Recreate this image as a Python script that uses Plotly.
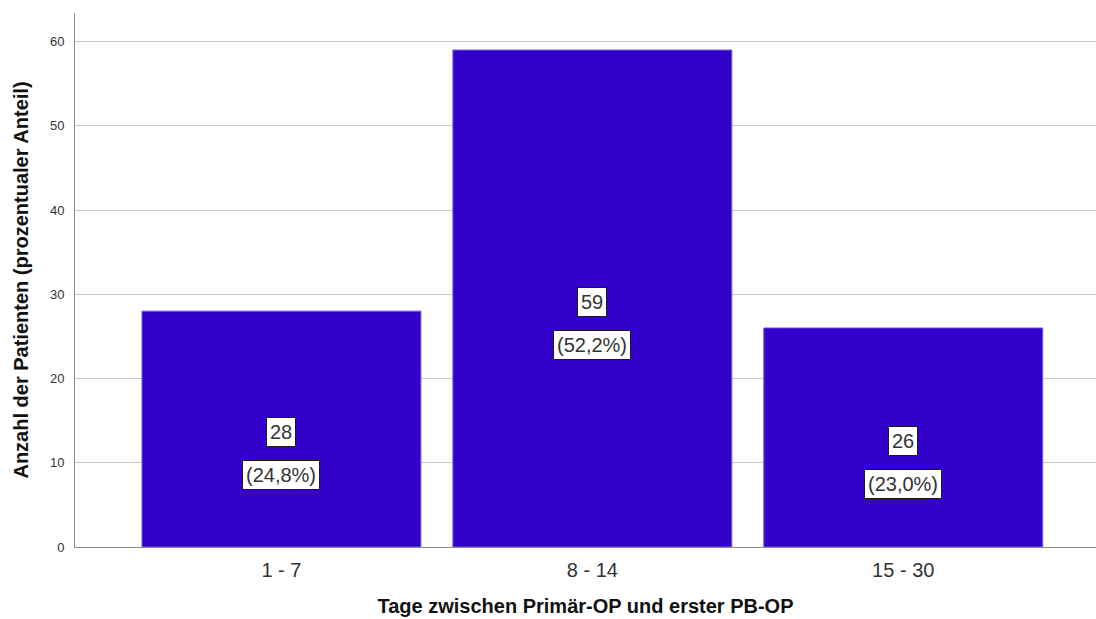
import plotly.graph_objects as go

categories = ["1 - 7", "8 - 14", "15 - 30"]
counts = [28, 59, 26]
percents = ["(24,8%)", "(52,2%)", "(23,0%)"]
y_ticks = [0, 10, 20, 30, 40, 50, 60]

bar_color = "#3300CC"
font_family = "Arial, Liberation Sans, sans-serif"

fig = go.Figure()
fig.add_trace(go.Bar(
    x=list(range(len(categories))),
    y=counts,
    width=0.897,
    marker=dict(color=bar_color, line=dict(color="#6a55e0", width=1)),
    hoverinfo="skip",
))

# count and percentage labels stacked in the middle of each bar
annotations = []
for i, (c, p) in enumerate(zip(counts, percents)):
    annotations.append(dict(
        x=i, y=c / 2, xref="x", yref="y", text=str(c), showarrow=False,
        yshift=-3, font=dict(family=font_family, size=20, color="#333333"),
        bgcolor="white", bordercolor="#1a1a1a", borderwidth=1, borderpad=3,
    ))
    annotations.append(dict(
        x=i, y=c / 2, xref="x", yref="y", text=p, showarrow=False,
        yshift=-46, font=dict(family=font_family, size=20, color="#333333"),
        bgcolor="white", bordercolor="#1a1a1a", borderwidth=1, borderpad=3,
    ))

fig.update_layout(
    width=1096, height=619,
    margin=dict(l=75, r=0, t=13, b=72, autoexpand=False),
    paper_bgcolor="white", plot_bgcolor="white",
    showlegend=False,
    annotations=annotations,
    font=dict(family=font_family, color="#222222"),
    xaxis=dict(
        range=[-0.664, 2.62],
        tickmode="array", tickvals=list(range(len(categories))), ticktext=categories,
        tickfont=dict(size=20, color="#333333"),
        showline=True, linecolor="#8c8c8c", linewidth=1,
        showgrid=False, zeroline=False, ticks="", ticklabelstandoff=5,
        automargin=False,
        title=dict(text="<b>Tage zwischen Primär-OP und erster PB-OP</b>",
                   font=dict(size=20, color="#111111"), standoff=18),
    ),
    yaxis=dict(
        range=[0, 63.4],
        tickmode="array", tickvals=y_ticks,
        tickfont=dict(size=13, color="#333333"),
        showline=True, linecolor="#8c8c8c", linewidth=1,
        showgrid=True, gridcolor="#c8c8c8", gridwidth=1,
        zeroline=False, ticks="", ticklabelstandoff=7,
        automargin=False,
        title=dict(text="<b>Anzahl der Patienten (prozentualer Anteil)</b>",
                   font=dict(size=20, color="#111111"), standoff=15),
    ),
)

fig.write_html("out.html")
